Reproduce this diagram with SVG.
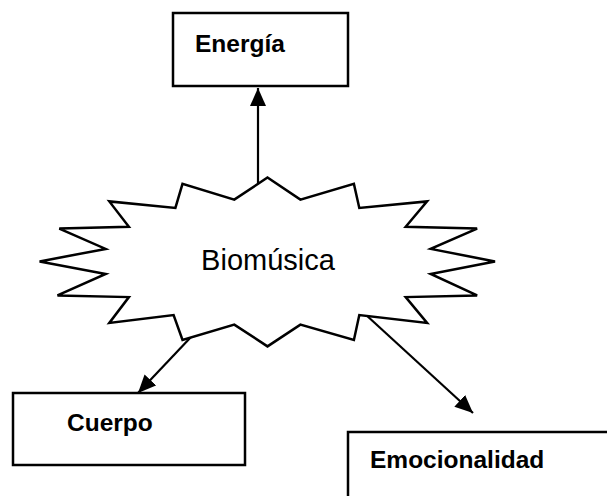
<svg xmlns="http://www.w3.org/2000/svg" width="607" height="496" viewBox="0 0 607 496">
  <style>
    .box { fill: #ffffff; stroke: #000000; stroke-width: 2.5; }
    .star { fill: #ffffff; stroke: #000000; stroke-width: 2.5; stroke-linejoin: miter; }
    .lbl { font-family: "Liberation Sans", Arial, sans-serif; font-weight: bold; font-size: 24.5px; fill: #000000; }
    .center { font-family: "Liberation Sans", Arial, sans-serif; font-size: 29px; fill: #000000; }
    .conn { stroke: #000000; stroke-width: 2.2; fill: none; }
  </style>
  <defs>
    <marker id="arrow" markerUnits="userSpaceOnUse" markerWidth="19" markerHeight="16" refX="18" refY="8" orient="auto">
      <path d="M0,0 L18,8 L0,16 Z" fill="#000000"/>
    </marker>
  </defs>
  <rect width="607" height="496" fill="#ffffff"/>

  <g id="connectors">
    <line class="conn" x1="258" y1="183" x2="258" y2="88" marker-end="url(#arrow)"/>
    <line class="conn" x1="209" y1="318" x2="138" y2="393" marker-end="url(#arrow)"/>
    <line class="conn" x1="365" y1="314" x2="473" y2="413" marker-end="url(#arrow)"/>
  </g>

  <g id="energia">
    <rect class="box" x="173" y="13" width="175" height="73"/>
    <text class="lbl" x="195" y="52">Energía</text>
  </g>

  <g id="biomusica">
    <polygon class="star" points="267.5,177.5 300.4,199.6 353.9,183.9 359.3,207.9 427.1,201.4 405.7,226.8 477.1,228.6 430.7,248.9 495,261.4 430.7,273.9 477.1,295.4 405.7,297.1 427.1,322.9 359.3,315 353.9,340 300.4,324.6 267.5,346.4 234.3,324.6 182.5,340 173.6,315 109.3,322.9 128.9,297.1 57.5,295.4 105.7,273.9 39.6,261.4 105.7,248.9 59.3,228.6 128.9,226.8 109.3,201.4 175.4,207.9 182.5,183.9 234.3,199.6"/>
    <text class="center" x="268" y="270" text-anchor="middle">Biomúsica</text>
  </g>

  <g id="cuerpo">
    <rect class="box" x="13" y="393" width="232" height="72"/>
    <text class="lbl" x="67" y="431">Cuerpo</text>
  </g>

  <g id="emocionalidad">
    <rect class="box" x="348" y="432" width="262" height="80"/>
    <text class="lbl" x="370" y="468">Emocionalidad</text>
  </g>
</svg>
